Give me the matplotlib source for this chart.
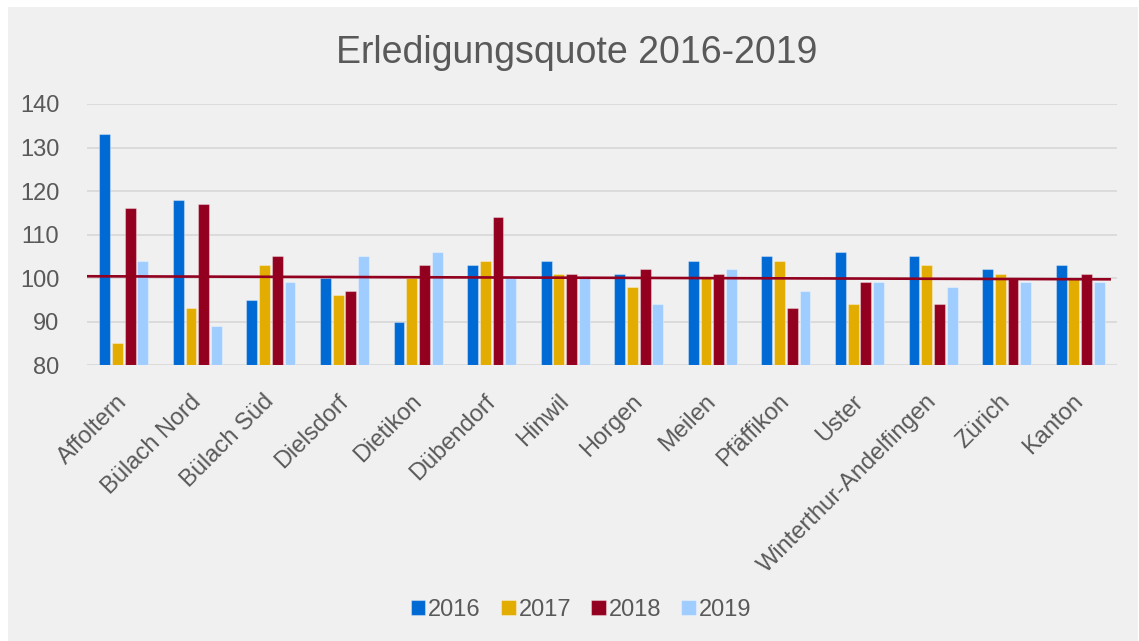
import matplotlib
matplotlib.use("Agg")
import matplotlib.pyplot as plt
import numpy as np
from matplotlib.patches import Rectangle

categories = ["Affoltern", "Bülach Nord", "Bülach Süd", "Dielsdorf", "Dietikon",
              "Dübendorf", "Hinwil", "Horgen", "Meilen", "Pfäffikon", "Uster",
              "Winterthur-Andelfingen", "Zürich", "Kanton"]
years = ["2016", "2017", "2018", "2019"]
v2016 = [133, 118, 95, 100, 90, 103, 104, 101, 104, 105, 106, 105, 102, 103]
v2017 = [85, 93, 103, 96, 100, 104, 101, 98, 100, 104, 94, 103, 101, 100]
v2018 = [116, 117, 105, 97, 103, 114, 101, 102, 101, 93, 99, 94, 100, 101]
v2019 = [104, 89, 99, 105, 106, 100, 100, 94, 102, 97, 99, 98, 99, 99]
trend_x = [-0.5, 13.4]
trend_y = [100.4, 99.7]
yticks = [80, 90, 100, 110, 120, 130, 140]

colors = ["#006AD4", "#E2AC00", "#93001F", "#A0CDFF"]
text_color = "#595959"
plt.rcParams['font.family'] = ['Liberation Sans', 'DejaVu Sans']

W, H = 1139, 641
fig = plt.figure(figsize=(W / 100, H / 100), dpi=100, facecolor="white")
fig.patches.append(Rectangle((8 / W, 0), (1138 - 8) / W, (641 - 7) / H,
                             transform=fig.transFigure, facecolor="#F0F0F0",
                             edgecolor="none", zorder=-10))

ax = fig.add_axes([87 / W, 1 - 365 / H, (1117 - 87) / W, (365 - 104) / H])
ax.set_facecolor("none")

x = np.arange(len(categories))
slot = 0.173
series = [v2016, v2017, v2018, v2019]
for k, (vals, c, lab) in enumerate(zip(series, colors, years)):
    ax.bar(x + (k - 1.5) * slot, np.array(vals) - 80, bottom=80, width=slot * 0.86,
           color=c, edgecolor=(1, 1, 1, 0.35), linewidth=0.8, label=lab, zorder=3)

ax.plot(trend_x, trend_y, color="#93001F", linewidth=1.9, zorder=4)

ax.set_xlim(-0.5, len(categories) - 0.5)
ax.set_ylim(80, 140)
ax.set_yticks(yticks)
ax.yaxis.grid(True, color="#D9D9D9", linewidth=1.3, zorder=0)
ax.set_axisbelow(True)
for s in ax.spines.values():
    s.set_visible(False)
ax.tick_params(axis="both", length=0, labelsize=17, colors=text_color)
ax.tick_params(axis="y", pad=20)
ax.set_xticks(x)
ax.set_xticklabels(categories, rotation=45, ha="right", rotation_mode="anchor",
                   va="center")
ax.tick_params(axis="x", pad=24)

fig.text(577 / W, 1 - 63 / H, "Erledigungsquote 2016-2019", ha="center",
         va="baseline", fontsize=27, color=text_color)

leg = fig.legend(loc="center", bbox_to_anchor=(581 / W, 1 - 610 / H), ncol=4,
                 frameon=False, fontsize=17, handlelength=0.62, handleheight=0.62,
                 handletextpad=0.12, columnspacing=0.85, labelcolor=text_color)

fig.savefig("out.png", dpi=100, facecolor="white")
